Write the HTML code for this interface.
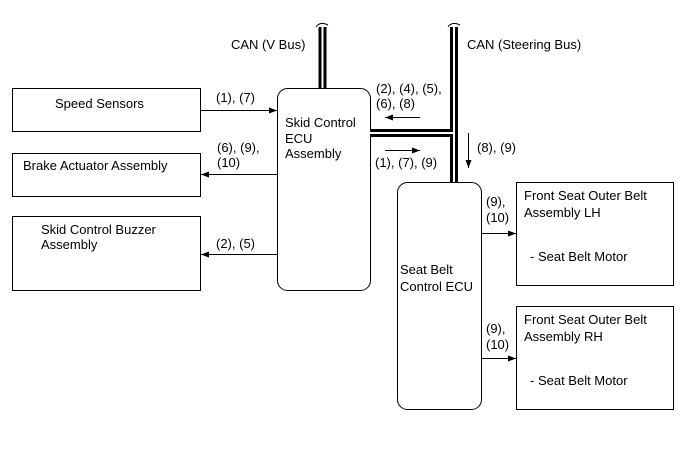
<!DOCTYPE html>
<html><head><style>
body{margin:0;background:#fff}
svg text{font-family:"Liberation Sans",Arial,sans-serif;font-size:13px;fill:#000}
</style></head><body>
<svg width="689" height="465" viewBox="0 0 689 465" xmlns="http://www.w3.org/2000/svg">
<defs><marker id="a" markerWidth="8" markerHeight="6" refX="8" refY="3" orient="auto" markerUnits="userSpaceOnUse"><path d="M0,0 L8,3 L0,6z" fill="#000"/></marker></defs>
<g fill="none" stroke="#000" stroke-width="1">
<rect x="12.5" y="88.5" width="188" height="43"/>
<rect x="12.5" y="153.5" width="188" height="43"/>
<rect x="12.5" y="216.5" width="188" height="74"/>
<rect x="277.5" y="88.5" width="93" height="202" rx="10"/>
<rect x="397.5" y="182.5" width="84" height="227" rx="10"/>
<rect x="516.5" y="182.5" width="157" height="103"/>
<rect x="516.5" y="306.5" width="157" height="103"/>
</g>
<g stroke="#000" fill="none">
<path d="M322.5,27 V88" stroke-width="8"/><path d="M322.5,27 V88" stroke="#fff" stroke-width="2"/>
<path d="M370,133 H454 M454,27 V182" stroke-width="8"/>
<path d="M370,133 H454 M454,27 V182" stroke="#fff" stroke-width="2"/>
<path d="M316,27 q4,-6 12,-2 M448,27 q4,-6 12,-2" stroke-width="1"/>
</g>
<g stroke="#000" stroke-width="1" fill="none">
<line x1="200" y1="110.5" x2="277" y2="110.5" marker-end="url(#a)"/>
<line x1="277" y1="174.5" x2="201" y2="174.5" marker-end="url(#a)"/>
<line x1="277" y1="254.5" x2="201" y2="254.5" marker-end="url(#a)"/>
<line x1="420" y1="117.5" x2="385" y2="117.5" marker-end="url(#a)"/>
<line x1="385" y1="150.5" x2="420" y2="150.5" marker-end="url(#a)"/>
<line x1="468.5" y1="133" x2="468.5" y2="168" marker-end="url(#a)"/>
<line x1="482" y1="233.5" x2="516" y2="233.5" marker-end="url(#a)"/>
<line x1="482" y1="358.5" x2="516" y2="358.5" marker-end="url(#a)"/>
</g>
<text x="231" y="49">CAN (V Bus)</text>
<text x="467" y="49">CAN (Steering Bus)</text>
<text x="55" y="108">Speed Sensors</text>
<text x="23" y="170">Brake Actuator Assembly</text>
<text x="41" y="234">Skid Control Buzzer</text>
<text x="41" y="249">Assembly</text>
<text x="216" y="102">(1), (7)</text>
<text x="217" y="152">(6), (9),</text>
<text x="217" y="167">(10)</text>
<text x="216" y="248">(2), (5)</text>
<text x="285" y="127">Skid Control</text>
<text x="285" y="143">ECU</text>
<text x="285" y="158">Assembly</text>
<text x="376" y="93">(2), (4), (5),</text>
<text x="376" y="108">(6), (8)</text>
<text x="375" y="167">(1), (7), (9)</text>
<text x="477" y="152">(8), (9)</text>
<text x="400" y="274">Seat Belt</text>
<text x="400" y="291">Control ECU</text>
<text x="486" y="206">(9),</text>
<text x="486" y="222">(10)</text>
<text x="486" y="333">(9),</text>
<text x="486" y="349">(10)</text>
<text x="524" y="200">Front Seat Outer Belt</text>
<text x="524" y="217">Assembly LH</text>
<text x="530" y="261">- Seat Belt Motor</text>
<text x="524" y="324">Front Seat Outer Belt</text>
<text x="524" y="341">Assembly RH</text>
<text x="530" y="385">- Seat Belt Motor</text>
</svg>
</body></html>
